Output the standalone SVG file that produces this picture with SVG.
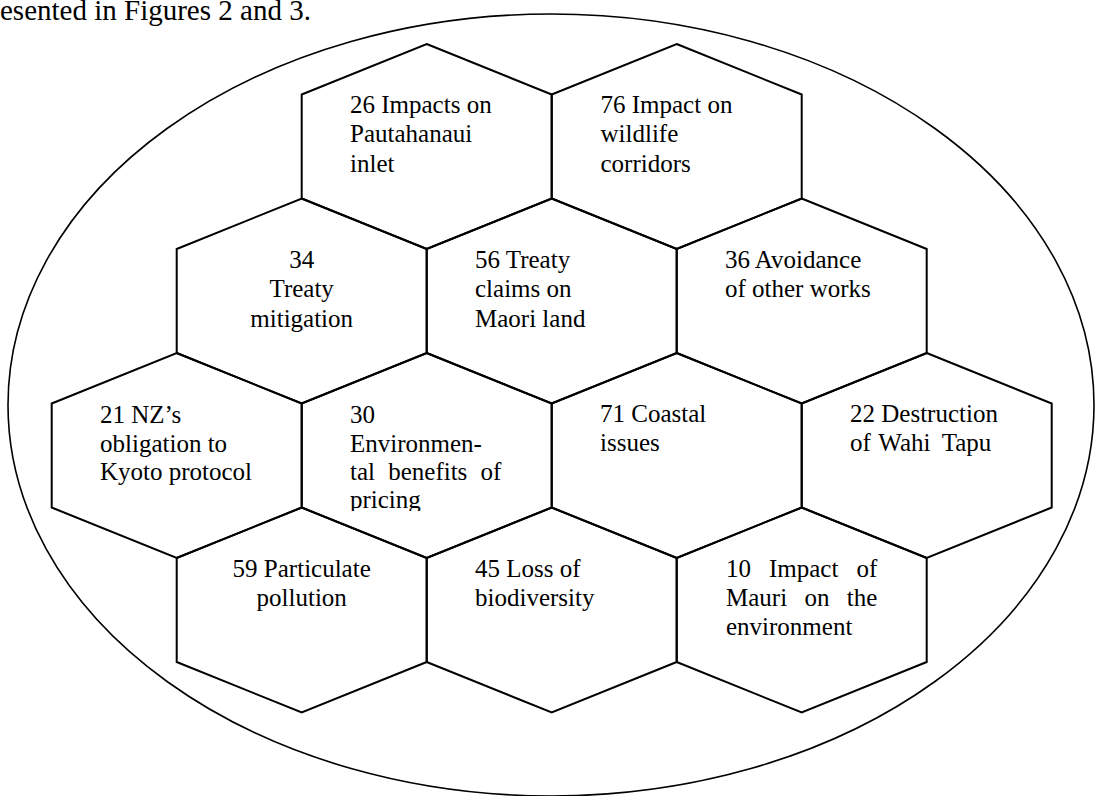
<svg xmlns="http://www.w3.org/2000/svg" width="1100" height="796" viewBox="0 0 1100 796">
  <style>
    .hex { fill: none; stroke: #000; stroke-width: 2; stroke-linejoin: miter; }
    .outline { fill: none; stroke: #000; stroke-width: 1.6; }
    .lbl { font-family: "Liberation Serif", "Times New Roman", serif; font-size: 25px; fill: #000; }
    .mid { text-anchor: middle; }
    .body { font-family: "Liberation Serif", "Times New Roman", serif; font-size: 29px; fill: #000; }
  </style>
  <defs>
    <!-- one hexagon cell, pointy top, 250 wide and 205 tall, origin at the top vertex -->
    <polygon id="cell" points="0,0 125,50.5 125,154.5 0,205 -125,154.5 -125,50.5"/>
    <clipPath id="clip30">
      <rect x="340" y="390" width="200" height="121"/>
    </clipPath>
  </defs>

  <rect width="1100" height="796" fill="#fff"/>

  <!-- tail of the paragraph above the figure -->
  <text class="body" x="0" y="19.5">esented in Figures 2 and 3.</text>

  <!-- enclosing ellipse -->
  <ellipse class="outline" cx="551" cy="405" rx="543" ry="391"/>

  <!-- row 1 -->
  <g id="node-26">
    <use href="#cell" class="hex" x="426.7" y="44"/>
    <text class="lbl" x="350" y="113.3">26 Impacts on<tspan x="350" y="142.3">Pautahanaui</tspan><tspan x="350" y="171.5">inlet</tspan></text>
  </g>
  <g id="node-76">
    <use href="#cell" class="hex" x="676.7" y="44"/>
    <text class="lbl" x="600.5" y="113.3">76 Impact on<tspan x="600.5" y="142.3">wildlife</tspan><tspan x="600.5" y="171.5">corridors</tspan></text>
  </g>

  <!-- row 2 -->
  <g id="node-34">
    <use href="#cell" class="hex" x="301.7" y="198.5"/>
    <text class="lbl mid" x="301.7" y="268.3">34<tspan x="301.7" y="297.3">Treaty</tspan><tspan x="301.7" y="326.5">mitigation</tspan></text>
  </g>
  <g id="node-56">
    <use href="#cell" class="hex" x="551.7" y="198.5"/>
    <text class="lbl" x="475" y="268.3">56 Treaty<tspan x="475" y="297.3">claims on</tspan><tspan x="475" y="326.5">Maori land</tspan></text>
  </g>
  <g id="node-36">
    <use href="#cell" class="hex" x="801.7" y="198.5"/>
    <text class="lbl" x="725" y="268.3">36 Avoidance<tspan x="725" y="297.3">of other works</tspan></text>
  </g>

  <!-- row 3 -->
  <g id="node-21">
    <use href="#cell" class="hex" x="176.7" y="353"/>
    <text class="lbl" x="100" y="422.7">21 NZ’s<tspan x="100" y="451.5">obligation to</tspan><tspan x="100" y="480.3">Kyoto protocol</tspan></text>
  </g>
  <g id="node-30">
    <use href="#cell" class="hex" x="426.7" y="353"/>
    <text class="lbl" x="350" y="422.7" clip-path="url(#clip30)">30<tspan x="350" y="451.5">Environmen-</tspan><tspan x="350" y="480.3">tal</tspan><tspan x="388.2" y="480.3">benefits</tspan><tspan x="480.5" y="480.3">of</tspan><tspan x="350" y="508.3">pricing</tspan></text>
  </g>
  <g id="node-71">
    <use href="#cell" class="hex" x="676.7" y="353"/>
    <text class="lbl" x="600" y="422.3">71 Coastal<tspan x="600" y="451.2">issues</tspan></text>
  </g>
  <g id="node-22">
    <use href="#cell" class="hex" x="926.7" y="353"/>
    <text class="lbl" x="850" y="422.3">22 Destruction<tspan x="850" y="451.2">of</tspan><tspan x="878.3" y="451.2">Wahi</tspan><tspan x="941.7" y="451.2">Tapu</tspan></text>
  </g>

  <!-- row 4 -->
  <g id="node-59">
    <use href="#cell" class="hex" x="301.7" y="507.5"/>
    <text class="lbl mid" x="301.7" y="576.7">59 Particulate<tspan x="301.7" y="606">pollution</tspan></text>
  </g>
  <g id="node-45">
    <use href="#cell" class="hex" x="551.7" y="507.5"/>
    <text class="lbl" x="475" y="576.7">45 Loss of<tspan x="475" y="606">biodiversity</tspan></text>
  </g>
  <g id="node-10">
    <use href="#cell" class="hex" x="801.7" y="507.5"/>
    <text class="lbl" x="726" y="576.7">10<tspan x="769" y="576.7">Impact</tspan><tspan x="856.5" y="576.7">of</tspan><tspan x="726" y="606">Mauri</tspan><tspan x="804.4" y="606">on</tspan><tspan x="846.7" y="606">the</tspan><tspan x="726" y="635">environment</tspan></text>
  </g>
</svg>
